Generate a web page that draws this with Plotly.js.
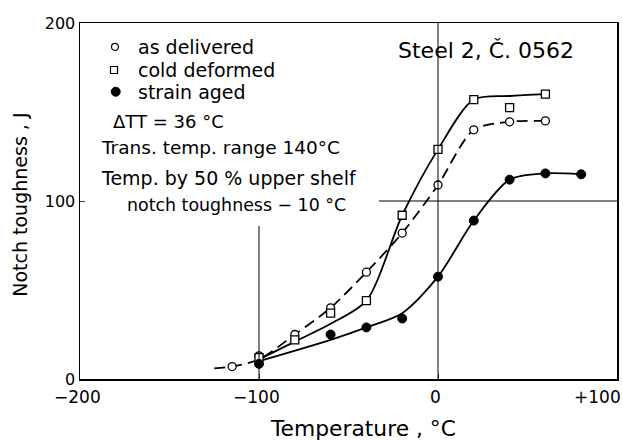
<!DOCTYPE html>
<html><head><meta charset="utf-8">
<script src="https://cdn.plot.ly/plotly-3.0.1.min.js"></script>
<style>body{margin:0;background:#fff}#c{width:623px;height:441px}</style>
</head><body><div id="c"></div>
<script>
// measured points
const delivT = [-115, -100, -80, -60, -40, -20, 0, 20, 40, 60];
const delivJ = [7, 13, 25, 40, 60, 82, 109, 140, 144.5, 145];
const coldT = [-100, -80, -60, -40, -20, 0, 20, 40, 60];
const coldJ = [12, 22, 37, 44, 92, 129, 157, 152.5, 160];
const agedT = [-100, -60, -40, -20, 0, 20, 40, 60, 80];
const agedJ = [8.5, 25, 29, 34, 57.5, 89, 112, 115.5, 115];
// hand-drawn curves
const delivCurveT = [-125, -115, -100, -80, -60, -40, -20, 0, 20, 40, 60];
const delivCurveJ = [6, 7, 11, 25, 40, 60, 82, 109, 140, 144.5, 145];
const coldCurveT = [-100, -80, -60, -40, -20, 0, 20, 40, 60];
const coldCurveJ = [11, 21, 31, 44, 92, 129, 157, 159, 160];
const agedCurveT = [-100, -60, -40, -20, 0, 20, 40, 60, 80];
const agedCurveJ = [10, 22, 29, 37, 57.5, 89, 112, 115.5, 115];
const seriesNames = ['as delivered', 'cold deformed', 'strain aged'];
const xTicks = [-200, -100, 0, 100];
const xTickText = ['\u2212200', '\u2212100', '0', '+100'];
const yTicks = [0, 100, 200];
const notes = ['\u0394TT = 36 \u00b0C', 'Trans. temp. range 140\u00b0C', 'Temp. by 50 % upper shelf', 'notch toughness \u2212 10 \u00b0C'];
const steelLabel = 'Steel 2, \u010c. 0562';
const xTitle = 'Temperature , \u00b0C';
const yTitle = 'Notch toughness , J';

const F = '"DejaVu Sans", sans-serif';
const blk = '#000';
const line = {color: blk, width: 1.8, shape: 'spline', smoothing: 0.8};
const mk = [
  {symbol: 'circle', size: 8, color: '#fff', line: {color: blk, width: 1.3}},
  {symbol: 'square', size: 8, color: '#fff', line: {color: blk, width: 1.3}},
  {symbol: 'circle', size: 9, color: blk, line: {color: blk, width: 1}}
];
const traces = [
  {x: delivCurveT, y: delivCurveJ, mode: 'lines', line: Object.assign({}, line, {dash: '11px,6px'}), hoverinfo: 'skip'},
  {x: coldCurveT, y: coldCurveJ, mode: 'lines', line: line, hoverinfo: 'skip'},
  {x: agedCurveT, y: agedCurveJ, mode: 'lines', line: line, hoverinfo: 'skip'},
  {x: delivT, y: delivJ, mode: 'markers', name: seriesNames[0], marker: mk[0]},
  {x: coldT, y: coldJ, mode: 'markers', name: seriesNames[1], marker: mk[1]},
  {x: agedT, y: agedJ, mode: 'markers', name: seriesNames[2], marker: mk[2]}
];

const tf = (size) => ({family: F, size: size, color: blk});
const annotations = [];
// legend text and keys
const legY = [0.933, 0.868, 0.807];
seriesNames.forEach((n, i) => annotations.push({x: 0.104, y: legY[i], xref: 'paper', yref: 'paper', text: n, showarrow: false, xanchor: 'left', yanchor: 'middle', font: tf(19)}));
const noteY = [0.723, 0.649, 0.565, 0.489];
const noteX = [0.057, 0.036, 0.036, 0.084];
const noteSize = [18, 18.5, 19, 17.4];
notes.forEach((t, i) => annotations.push({x: noteX[i], y: noteY[i], xref: 'paper', yref: 'paper', text: t, showarrow: false, xanchor: 'left', yanchor: 'middle', font: tf(noteSize[i])}));
annotations.push({x: 0.5885, y: 0.924, xref: 'paper', yref: 'paper', text: steelLabel, showarrow: false, xanchor: 'left', yanchor: 'middle', font: tf(22)});
xTicks.forEach((v, i) => {
  const last = i === xTicks.length - 1;
  annotations.push({x: v, y: 0, xref: 'x', yref: 'paper', yshift: -18, text: xTickText[i], showarrow: false,
    xanchor: last ? 'right' : 'center', xshift: last ? 6 : -3, yanchor: 'middle', font: tf(17)});
});
annotations.push({x: 0.527, y: 0, xref: 'paper', yref: 'paper', yshift: -49, text: xTitle, showarrow: false, xanchor: 'center', yanchor: 'middle', font: tf(21.8)});
annotations.push({x: -0.112, y: 0.489, xref: 'paper', yref: 'paper', text: yTitle, textangle: -90, showarrow: false, xanchor: 'center', yanchor: 'middle', font: tf(19)});

const keyX = [0.0652, 0.0633, 0.0665];
const keyShapes = [
  {type: 'circle', xref: 'paper', yref: 'paper', xsizemode: 'pixel', ysizemode: 'pixel', xanchor: keyX[0], yanchor: legY[0], x0: -3.5, x1: 3.5, y0: -3.5, y1: 3.5, line: {color: blk, width: 1.2}, fillcolor: '#fff'},
  {type: 'rect', xref: 'paper', yref: 'paper', xsizemode: 'pixel', ysizemode: 'pixel', xanchor: keyX[1], yanchor: legY[1], x0: -3.5, x1: 3.5, y0: -3.5, y1: 3.5, line: {color: blk, width: 1.2}, fillcolor: '#fff'},
  {type: 'circle', xref: 'paper', yref: 'paper', xsizemode: 'pixel', ysizemode: 'pixel', xanchor: keyX[2], yanchor: legY[2], x0: -4.5, x1: 4.5, y0: -4.5, y1: 4.5, line: {color: blk, width: 1}, fillcolor: blk}
];

const layout = {
  width: 623, height: 441,
  margin: {l: 80, r: 6, t: 23, b: 62},
  paper_bgcolor: '#fff', plot_bgcolor: '#fff',
  font: {family: F, size: 16, color: blk},
  showlegend: false,
  xaxis: {range: [-200, 100], tickvals: xTicks, showticklabels: false, ticks: 'inside', ticklen: 5, showgrid: false, zeroline: false, showline: true, linecolor: blk, linewidth: 1.5, mirror: true},
  yaxis: {range: [0, 200], tickvals: yTicks, ticks: 'inside', ticklen: 5, showgrid: false, zeroline: false, showline: true, linecolor: blk, linewidth: 1.5, mirror: true,
          tickfont: tf(16)},
  shapes: [
    {type: 'line', xref: 'x', yref: 'y', x0: 0, x1: 0, y0: 0, y1: 200, line: {color: blk, width: 1}},
    {type: 'line', xref: 'x', yref: 'y', x0: -100, x1: -100, y0: 0, y1: 86, line: {color: blk, width: 1}},
    {type: 'line', xref: 'x', yref: 'y', x0: -33, x1: 100, y0: 100, y1: 100, line: {color: blk, width: 1}}
  ].concat(keyShapes),
  annotations: annotations
};
Plotly.newPlot('c', traces, layout, {staticPlot: true, displayModeBar: false});
</script></body></html>
